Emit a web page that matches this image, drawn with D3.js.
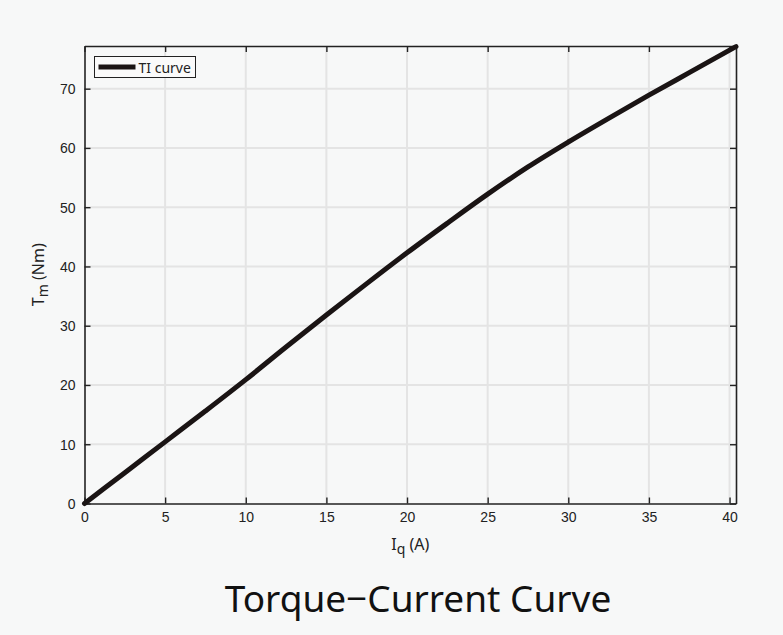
<!DOCTYPE html>
<html>
<head>
<meta charset="utf-8">
<script src="https://cdn.jsdelivr.net/npm/d3@7"></script>
<style>
  body { margin: 0; background: #f7f8f8; }
  svg { display: block; font-family: "Noto Sans", sans-serif; }
</style>
</head>
<body>
<div id="chart"></div>
<script>
// current (A) and torque (Nm)
const currentIq = [0, 2.5, 5, 7.5, 10, 12.5, 15, 17.5, 20, 22.5, 25, 27.5, 30, 32.5, 35, 37.5, 40.4];
const torqueTm  = [0, 5.2, 10.4, 15.6, 20.9, 26.4, 31.8, 37.1, 42.3, 47.3, 52.2, 56.8, 61.0, 65.0, 68.9, 72.7, 77.1];
const xTicks = [0, 5, 10, 15, 20, 25, 30, 35, 40];
const yTicks = [0, 10, 20, 30, 40, 50, 60, 70];

const W = 783, H = 635;
const m = {left: 84.5, right: 47, top: 46, bottom: 131.5};
const iw = W - m.left - m.right, ih = H - m.top - m.bottom;

const svg = d3.select('#chart').append('svg')
  .attr('width', W).attr('height', H);

const x = d3.scaleLinear().domain([0, 40.4]).range([0, iw]);
const y = d3.scaleLinear().domain([0, 77.2]).range([ih, 0]);

const g = svg.append('g').attr('transform', `translate(${m.left},${m.top})`);

// grid
g.append('g').selectAll('line').data(xTicks.filter(d => d > 0)).join('line')
  .attr('x1', d => x(d)).attr('x2', d => x(d)).attr('y1', 0).attr('y2', ih)
  .attr('stroke', '#e4e4e4').attr('stroke-width', 2);
g.append('g').selectAll('line').data(yTicks.filter(d => d > 0)).join('line')
  .attr('y1', d => y(d)).attr('y2', d => y(d)).attr('x1', 0).attr('x2', iw)
  .attr('stroke', '#e4e4e4').attr('stroke-width', 2);

// axes, ticks inward
const ax = (a) => a.tickSizeInner(-6).tickSizeOuter(0).tickPadding(9);
const xb = g.append('g').attr('transform', `translate(0,${ih})`)
  .call(ax(d3.axisBottom(x).tickValues(xTicks)));
const xt = g.append('g').call(ax(d3.axisTop(x).tickValues(xTicks)).tickFormat(''));
const yl = g.append('g').call(ax(d3.axisLeft(y).tickValues(yTicks)));
const yr = g.append('g').attr('transform', `translate(${iw},0)`)
  .call(ax(d3.axisRight(y).tickValues(yTicks)).tickFormat(''));
[xb, xt, yl, yr].forEach(a => {
  a.select('.domain').attr('stroke', '#222').attr('stroke-width', 1.6);
  a.selectAll('.tick line').attr('stroke', '#222').attr('stroke-width', 1.4);
  a.selectAll('.tick text').attr('fill', '#222').style('font-size', '14px');
});
yl.selectAll('.tick text').attr('dy', '0.35em');

// curve
g.append('path')
  .datum(currentIq.map((d, i) => [d, torqueTm[i]]))
  .attr('fill', 'none').attr('stroke', '#1a1414').attr('stroke-width', 5)
  .attr('stroke-linecap', 'round')
  .attr('d', d3.line().x(d => x(d[0])).y(d => y(d[1])).curve(d3.curveMonotoneX));

// legend
const lg = g.append('g').attr('transform', 'translate(10,10.5)');
lg.append('rect').attr('width', 101).attr('height', 21)
  .attr('fill', '#fafafa').attr('stroke', '#222').attr('stroke-width', 1);
lg.append('line').attr('x1', 4).attr('x2', 41).attr('y1', 10.5).attr('y2', 10.5)
  .attr('stroke', '#1a1414').attr('stroke-width', 5);
lg.append('text').attr('x', 44).attr('y', 16).attr('fill', '#222')
  .style('font-size', '14px').text('TI curve');

// axis labels
const xl = svg.append('text').attr('x', m.left + iw / 2).attr('y', 550)
  .attr('text-anchor', 'middle').attr('fill', '#222').style('font-size', '16px');
xl.append('tspan').text('I');
xl.append('tspan').attr('dy', 4).style('font-size', '14px').text('q');
xl.append('tspan').attr('dy', -4).text(' (A)');

const ylab = svg.append('text')
  .attr('transform', `translate(44,${m.top + ih / 2}) rotate(-90)`)
  .attr('text-anchor', 'middle').attr('fill', '#222').style('font-size', '16px');
ylab.append('tspan').text('T');
ylab.append('tspan').attr('dy', 4).style('font-size', '14px').text('m');
ylab.append('tspan').attr('dy', -4).text(' (Nm)');

// title
svg.append('text').attr('x', 418).attr('y', 612).attr('text-anchor', 'middle')
  .attr('fill', '#111').style('font-size', '37px').text('Torque\u2212Current Curve');
</script>
</body>
</html>
